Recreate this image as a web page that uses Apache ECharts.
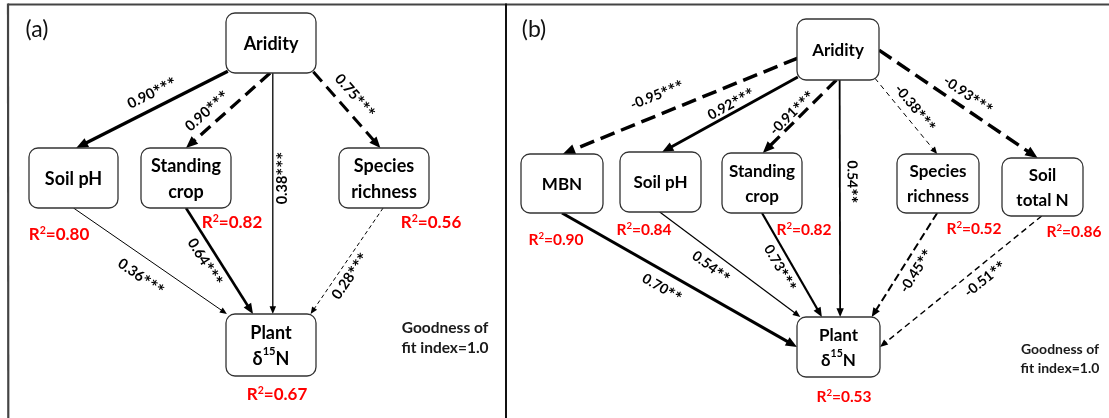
<!DOCTYPE html>
<html>
<head>
<meta charset="utf-8">
<script src="https://cdn.jsdelivr.net/npm/echarts@6/dist/echarts.min.js"></script>
<style>
  html, body { margin: 0; padding: 0; background: #ffffff; }
  #chart { width: 1109px; height: 418px; }
</style>
</head>
<body>
<div id="chart"></div>
<script>
// ---------- Panel (a): SEM of plant δ15N ----------
const nodesA = ['Aridity', 'Soil pH', 'Standing\ncrop', 'Species\nrichness', 'Plant\nδ{s|15}N'];
const r2A    = [null, 0.80, 0.82, 0.56, 0.67];
const fromA  = [0, 0, 0, 0, 1, 2, 3];
const toA    = [1, 2, 4, 3, 4, 4, 4];
const coefA  = [0.90, 0.90, 0.38, 0.75, 0.36, 0.64, 0.28];
const sigA   = ['***', '***', '***', '***', '***', '***', '***'];

// ---------- Panel (b): SEM with soil N pools ----------
const nodesB = ['Aridity', 'MBN', 'Soil pH', 'Standing\ncrop', 'Species\nrichness', 'Soil\ntotal N', 'Plant\nδ{s|15}N'];
const r2B    = [null, 0.90, 0.84, 0.82, 0.52, 0.86, 0.53];
const fromB  = [0, 0, 0, 0, 0, 0, 1, 2, 3, 4, 5];
const toB    = [1, 2, 3, 6, 4, 5, 6, 6, 6, 6, 6];
const coefB  = [-0.95, 0.92, -0.91, 0.54, -0.38, -0.93, 0.70, 0.54, 0.73, -0.45, -0.51];
const sigB   = ['***', '***', '***', '**', '***', '***', '**', '**', '***', '**', '**'];

const panelTags = ['(a)', '(b)'];
const fitIndex  = [1.0, 1.0];

// ---------- layout (page pixels) ----------
const W = 1109, H = 418;
// node boxes: [left, top, width, height]
const boxA = [[226, 13, 90, 60], [29, 148, 89, 60], [141, 148, 90, 60], [339, 148, 90, 60], [226, 314, 90, 62]];
const boxB = [[797, 19, 82, 61], [521, 154, 82, 59], [620, 152, 81, 60], [722, 153, 80, 60],
              [897, 154, 82, 59], [1002, 158, 81, 58], [797, 317, 83, 60]];
// path attachment points on source / target box, as fractions of box width / height
const anchorA = [
  [[0.02, 0.97], [0.53, 0]], [[0.49, 1], [0.5, 0]], [[0.52, 1], [0.52, 0]], [[0.97, 0.98], [0.46, 0]],
  [[0.5, 1], [0.01, 0]], [[0.5, 1], [0.3, 0]], [[0.49, 1], [0.94, 0]]
];
const anchorB = [
  [[0.01, 0.64], [0.51, 0]], [[0.01, 0.95], [0.52, 0]], [[0.48, 1], [0.51, 0]], [[0.52, 1], [0.52, 0]],
  [[0.95, 0.97], [0.49, 0]], [[1, 0.51], [0.44, 0]], [[0.5, 1], [0, 0.5]], [[0.49, 1], [0.04, 0]],
  [[0.5, 1], [0.3, 0]], [[0.49, 1], [0.9, 0]], [[0.49, 1], [1, 0.5]]
];
// coefficient label centres
const coefPosA = [[152, 93], [207, 111], [282, 178], [355, 96], [141, 277], [205, 262], [350, 276]];
const coefPosB = [[657, 95], [731, 104], [792, 113], [852, 182], [915, 108], [968, 95],
                  [662, 288], [711, 267], [780, 268], [916, 271], [985, 279]];
// R² label centres (null for exogenous node)
const r2PosA = [null, [59, 235], [232, 223], [431, 223], [277, 395]];
const r2PosB = [null, [556, 240], [644, 230], [804, 230], [974, 229], [1074, 232], [844, 397]];
const tagPos = [[37, 30], [534, 30]];
const fitPos = [[445, 338], [1060, 359]];

// path styles: [line width, dash pattern or null]
const styleA = [[3.3, null], [3.3, [13, 7]], [1.3, null], [3, [13, 7]], [1, null], [2.6, null], [1, [4, 3]]];
const styleB = [[3.5, [15, 7]], [3, null], [3.2, [13, 7]], [1.8, null], [1, [5, 4]], [3.5, [15, 7]],
                [3, null], [1.2, null], [2.2, null], [2, [8, 4]], [1.4, [6, 4]]];

const FONT = 'Lato, "Open Sans", "Noto Sans", sans-serif';

const panels = [
  { nodes: nodesA, r2: r2A, from: fromA, to: toA, coef: coefA, sig: sigA, box: boxA, anchor: anchorA,
    coefPos: coefPosA, r2Pos: r2PosA, style: styleA, nodeFont: 18, lineH: 26, r2Font: 17, coefFont: 14.5, fitFont: 15.5, fitLine: 20 },
  { nodes: nodesB, r2: r2B, from: fromB, to: toB, coef: coefB, sig: sigB, box: boxB, anchor: anchorB,
    coefPos: coefPosB, r2Pos: r2PosB, style: styleB, nodeFont: 17, lineH: 25, r2Font: 15.5, coefFont: 14, fitFont: 14, fitLine: 19 }
];

function anchorPoint(box, frac, api) {
  return api.coord([box[0] + frac[0] * box[2], box[1] + frac[1] * box[3]]);
}

function edgeRenderer(P) {
  return function (params, api) {
    const i = params.dataIndex;
    const s = anchorPoint(P.box[P.from[i]], P.anchor[i][0], api);
    const e = anchorPoint(P.box[P.to[i]], P.anchor[i][1], api);
    const w = P.style[i][0], dash = P.style[i][1];
    const dx = e[0] - s[0], dy = e[1] - s[1];
    const len = Math.hypot(dx, dy), ux = dx / len, uy = dy / len;
    const L = 5 + 2.1 * w, hw = 0.42 * L;
    const bx = e[0] - ux * L, by = e[1] - uy * L;
    const lineStyle = { stroke: '#000', lineWidth: w, lineCap: 'butt' };
    if (dash) lineStyle.lineDash = dash;
    let ang = Math.atan2(-dy, dx);
    if (ang <= -Math.PI / 2) ang += Math.PI;
    if (ang > Math.PI / 2) ang -= Math.PI;
    const lp = api.coord(P.coefPos[i]);
    return {
      type: 'group',
      children: [
        { type: 'line', shape: { x1: s[0], y1: s[1], x2: e[0] - ux * L * 0.6, y2: e[1] - uy * L * 0.6 }, style: lineStyle },
        { type: 'polygon', shape: { points: [[e[0], e[1]], [bx - uy * hw, by + ux * hw], [bx + uy * hw, by - ux * hw]] },
          style: { fill: '#000' } },
        { type: 'text', x: lp[0], y: lp[1], rotation: ang,
          style: { text: P.coef[i].toFixed(2) + '{a|' + P.sig[i] + '}', fill: '#000', align: 'center', verticalAlign: 'middle',
                   fontFamily: FONT, fontWeight: 'bold', fontSize: P.coefFont, lineHeight: P.coefFont * 1.2,
                   rich: { a: { fontFamily: FONT, fontWeight: 'bold', fontSize: P.coefFont * 1.3, fill: '#000',
                                lineHeight: P.coefFont * 1.2, padding: [4, 0, 0, 0] } } } }
      ]
    };
  };
}

function nodeRenderer(P) {
  return function (params, api) {
    const i = params.dataIndex;
    const b = P.box[i];
    const p0 = api.coord([b[0], b[1]]), p1 = api.coord([b[0] + b[2], b[1] + b[3]]);
    return {
      type: 'group',
      children: [
        { type: 'rect', shape: { x: p0[0], y: p0[1], width: p1[0] - p0[0], height: p1[1] - p0[1], r: 9 },
          style: { fill: '#fff', stroke: '#333', lineWidth: 1.3 } },
        { type: 'text', x: (p0[0] + p1[0]) / 2, y: (p0[1] + p1[1]) / 2 + 1,
          style: { text: P.nodes[i], fill: '#000', align: 'center', verticalAlign: 'middle',
                   fontFamily: FONT, fontWeight: 'bold', fontSize: P.nodeFont, lineHeight: P.lineH,
                   rich: { s: { fontFamily: FONT, fontWeight: 'bold', fontSize: P.nodeFont * 0.62, verticalAlign: 'top',
                                lineHeight: P.nodeFont * 0.9, fill: '#000' } } } }
      ]
    };
  };
}

function r2Renderer(P) {
  return function (params, api) {
    const i = params.dataIndex;
    if (P.r2[i] == null) return null;
    const c = api.coord(P.r2Pos[i]);
    return {
      type: 'text', x: c[0], y: c[1],
      style: { text: 'R{s|2}=' + P.r2[i].toFixed(2), fill: '#ff0000', align: 'center', verticalAlign: 'middle',
               fontFamily: FONT, fontWeight: 'bold', fontSize: P.r2Font, lineHeight: P.r2Font * 1.2,
               rich: { s: { fontFamily: FONT, fontWeight: 'bold', fontSize: P.r2Font * 0.62, fill: '#ff0000',
                            verticalAlign: 'top', lineHeight: P.r2Font * 0.75 } } }
    };
  };
}

function extrasRenderer(params, api) {
  const k = params.dataIndex;
  const P = panels[k];
  const t = api.coord(tagPos[k]);
  const f = api.coord(fitPos[k]);
  return {
    type: 'group',
    children: [
      { type: 'text', x: t[0], y: t[1],
        style: { text: panelTags[k], fill: '#111', align: 'center', verticalAlign: 'middle',
                 fontFamily: FONT, fontSize: 23 } },
      { type: 'text', x: f[0], y: f[1],
        style: { text: 'Goodness of\nfit index=' + fitIndex[k].toFixed(1), fill: '#1a1a1a', align: 'center',
                 verticalAlign: 'middle', fontFamily: FONT, fontWeight: 'bold', fontSize: P.fitFont, lineHeight: P.fitLine } }
    ]
  };
}

function frameRenderer(params, api) {
  const tl = api.coord([8, 4.5]), tr = api.coord([W, 4.5]);
  const lb = api.coord([8.3, H]);
  const dt = api.coord([506, 4.5]), db = api.coord([506, H]);
  return {
    type: 'group',
    children: [
      { type: 'line', shape: { x1: tl[0], y1: tl[1], x2: tr[0], y2: tr[1] }, style: { stroke: '#444', lineWidth: 2 } },
      { type: 'line', shape: { x1: tl[0], y1: tl[1] - 1, x2: lb[0], y2: lb[1] }, style: { stroke: '#444', lineWidth: 2.2 } },
      { type: 'line', shape: { x1: dt[0], y1: dt[1] - 1, x2: db[0], y2: db[1] }, style: { stroke: '#111', lineWidth: 2 } }
    ]
  };
}

const series = [
  { type: 'custom', coordinateSystem: 'cartesian2d', renderItem: frameRenderer, data: [[0, 0]], z: 1, silent: true }
];
panels.forEach(function (P) {
  series.push({ type: 'custom', coordinateSystem: 'cartesian2d', renderItem: edgeRenderer(P),
                data: P.coef.map(function (v, i) { return [i, v]; }), z: 2, silent: true });
  series.push({ type: 'custom', coordinateSystem: 'cartesian2d', renderItem: nodeRenderer(P),
                data: P.nodes.map(function (n, i) { return [i, 0]; }), z: 3, silent: true });
  series.push({ type: 'custom', coordinateSystem: 'cartesian2d', renderItem: r2Renderer(P),
                data: P.r2.map(function (v, i) { return [i, v == null ? 0 : v]; }), z: 4, silent: true });
});
series.push({ type: 'custom', coordinateSystem: 'cartesian2d', renderItem: extrasRenderer,
              data: panels.map(function (p, k) { return [k, 0]; }), z: 4, silent: true });

const chart = echarts.init(document.getElementById('chart'), null, { renderer: 'canvas' });
chart.setOption({
  animation: false,
  backgroundColor: '#ffffff',
  grid: { left: 0, right: 0, top: 0, bottom: 0 },
  xAxis: { type: 'value', min: 0, max: W, show: false },
  yAxis: { type: 'value', min: 0, max: H, inverse: true, show: false },
  series: series
});
</script>
</body>
</html>
